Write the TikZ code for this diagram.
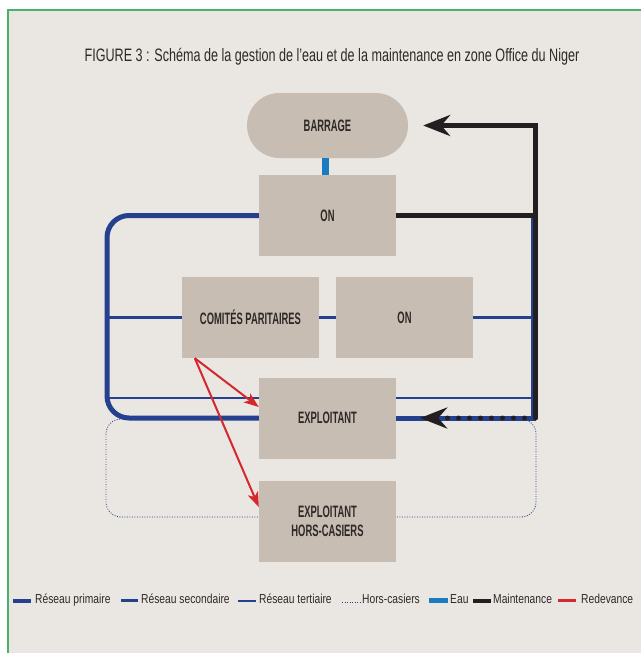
\documentclass[tikz,border=0pt]{standalone}
\usepackage{fontspec}
\setmainfont{Liberation Sans}
\newfontfamily\titrefont{Liberation Sans}[FakeStretch=0.70]
\newfontfamily\boitefont{Liberation Sans}[FakeStretch=0.57]
\newfontfamily\legfont{Liberation Sans}[FakeStretch=0.79]
\usetikzlibrary{arrows.meta,backgrounds}
\definecolor{fond}{HTML}{EAE6E1}
\definecolor{boitecol}{HTML}{C8BDB2}
\definecolor{texte}{HTML}{2E2927}
\definecolor{bleu}{HTML}{25408F}
\definecolor{bleueau}{HTML}{1B7BC2}
\definecolor{noir}{HTML}{231F20}
\definecolor{rouge}{HTML}{D6272E}
\definecolor{vert}{HTML}{4CAF6A}
\tikzset{
	boite/.style={fill=boitecol, minimum width=137pt, minimum height=81pt, inner sep=0pt, text=texte, align=center, font=\boitefont\bfseries\fontsize{16.5}{19}\selectfont},
	primaire/.style={draw=bleu, line width=5pt},
	secondaire/.style={draw=bleu, line width=3pt},
	tertiaire/.style={draw=bleu, line width=1.2pt},
	horscas/.style={draw=bleu, line width=0.9pt, dash pattern=on 0.9pt off 1.6pt},
	eau/.style={draw=bleueau, line width=7pt},
	maint/.style={draw=noir, line width=5pt},
	redev/.style={draw=rouge, line width=2pt, -{Stealth[length=15pt, width=11pt, inset=4pt]}},
	leg/.style={anchor=base west, inner sep=0pt, text=texte, font=\legfont\fontsize{13}{15}\selectfont}
}
\begin{document}
\begin{tikzpicture}[x=1pt, y=-1pt]
	\useasboundingbox (0,0) rectangle (641,653);
	\begin{pgfonlayer}{background}
		\fill[white] (0,0) rectangle (641,653);
		\fill[fond] (8,10) rectangle (641,653);
		\draw[vert, line width=1.5pt] (8,653) -- (8,10) -- (641,10);
		\draw[horscas, rounded corners=15pt] (106,419) rectangle (536,517);
	\end{pgfonlayer}
	\node[text=texte, font=\titrefont\fontsize{18}{20}\selectfont] (titre) at (332,57) {FIGURE 3 : Schéma de la gestion de l’eau et de la maintenance en zone Office du Niger};
	\node[boite, minimum width=161pt, minimum height=65pt, rounded corners=32.5pt] (bar) at (327.5,125.5) {BARRAGE};
	\node[boite] (on1) at (327.5,215.5) {ON};
	\node[boite] (com) at (250.5,317.5) {COMITÉS PARITAIRES};
	\node[boite] (on2) at (404.5,317.5) {ON};
	\node[boite] (expl) at (327.5,418) {EXPLOITANT};
	\node[boite] (hors) at (327.5,521) {EXPLOITANT\\HORS-CASIERS};
	\coordinate (g) at (107,0);
	\coordinate (db) at (533,0);
	\coordinate (d) at (535.5,0);
	\coordinate (t) at (107,398);
	\coordinate (r) at ([xshift=13pt]com.south west);
	\draw[primaire, rounded corners=22pt] (on1.west) -- (on1.west -| g) -- (expl.west -| g) -- (expl.west);
	\draw[primaire] (expl.east) -- (expl.east -| db) -- (on1.east -| db);
	\draw[secondaire] (com.west -| g) -- (com.west);
	\draw[secondaire] (com.east) -- (on2.west);
	\draw[secondaire] (on2.east) -- (on2.east -| db);
	\draw[tertiaire] (t) -- (t -| expl.west);
	\draw[tertiaire] (t -| expl.east) -- (t -| db);
	\draw[eau] ([xshift=-2pt]bar.south) -- ([xshift=-2pt]on1.north);
	\draw[maint] (on1.east) -- (on1.east -| d);
	\draw[maint, -{Stealth[length=27pt, width=21pt, inset=9pt]}, shorten >=15pt] (expl.east -| d) -- (bar.east -| d) -- (bar.east);
	\draw[noir, line width=5pt, line cap=round, dash pattern=on 0pt off 11pt, -{Stealth[length=27pt, width=21pt, inset=9pt]}, shorten >=24pt] (expl.east -| d) -- (expl.east);
	\draw[redev] (r) -- ([yshift=11pt]expl.west);
	\draw[redev] (r) -- ([yshift=14pt]hors.west);
	\draw[primaire, line width=4pt] (13,600.5) -- (31,600.5);
	\node[leg] (l1) at (35,603) {Réseau primaire};
	\draw[secondaire] (121,600.5) -- (138,600.5);
	\node[leg] (l2) at (141,603) {Réseau secondaire};
	\draw[tertiaire] (238,601) -- (256,601);
	\node[leg] (l3) at (259,603) {Réseau tertiaire};
	\draw[horscas] (342,602) -- (361,602);
	\node[leg] (l4) at (362,603) {Hors-casiers};
	\draw[eau, line width=5pt] (429,600.5) -- (448,600.5);
	\node[leg] (l5) at (450,603) {Eau};
	\draw[maint, line width=4pt] (473,600.5) -- (491,600.5);
	\node[leg] (l6) at (493,603) {Maintenance};
	\draw[rouge, line width=3pt] (558,600.5) -- (576,600.5);
	\node[leg] (l7) at (581,603) {Redevance};
\end{tikzpicture}
\end{document}
